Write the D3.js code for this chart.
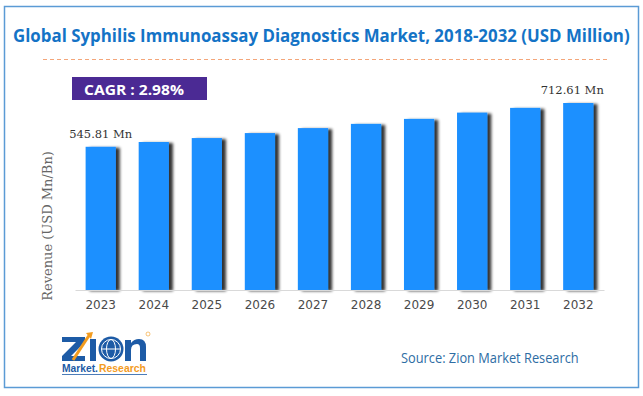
<!DOCTYPE html>
<html>
<head>
<meta charset="utf-8">
<script src="https://cdn.jsdelivr.net/npm/d3@7"></script>
<style>
  html, body { margin: 0; padding: 0; background: #fff; }
  svg { display: block; }
</style>
</head>
<body>
<script>
// chart data
var years = ["2023", "2024", "2025", "2026", "2027", "2028", "2029", "2030", "2031", "2032"];
var revenue = [545.81, 564, 579, 598, 617, 633, 652, 676, 694, 712.61];
var cagr = "2.98%";
var title = "Global Syphilis Immunoassay Diagnostics Market, 2018-2032 (USD Million)";

var W = 643, H = 396;

var svg = d3.select("body").append("svg")
  .attr("width", W)
  .attr("height", H);

var defs = svg.append("defs");
var f = defs.append("filter").attr("id", "shadow")
  .attr("x", "-20%").attr("y", "-5%").attr("width", "150%").attr("height", "110%");
f.append("feGaussianBlur").attr("in", "SourceAlpha").attr("stdDeviation", 1.8).attr("result", "b");
f.append("feOffset").attr("in", "b").attr("dx", 4).attr("dy", 1).attr("result", "o");
f.append("feComponentTransfer").attr("in", "o").attr("result", "s")
  .append("feFuncA").attr("type", "linear").attr("slope", 0.8);
var m = f.append("feMerge");
m.append("feMergeNode").attr("in", "s");
m.append("feMergeNode").attr("in", "SourceGraphic");

// frame
svg.append("rect")
  .attr("x", 4.5).attr("y", 6.5).attr("width", 634).attr("height", 381)
  .attr("fill", "none").attr("stroke", "#5b9bd5").attr("stroke-width", 1.5);

// title, squeezed horizontally to the reference width
var tt = svg.append("text")
  .style("font-family", "'Open Sans', sans-serif")
  .style("font-weight", "bold")
  .style("font-size", "18px")
  .attr("fill", "#1473c6")
  .text(title);
var tw = tt.node().getComputedTextLength();
tt.attr("transform", "translate(13,42) scale(" + (617 / tw) + ",1)");

svg.append("line")
  .attr("x1", 43).attr("x2", 610).attr("y1", 59.5).attr("y2", 59.5)
  .attr("stroke", "#f4a67a").attr("stroke-width", 1.2)
  .attr("stroke-dasharray", "4,3");

// cagr box
svg.append("rect")
  .attr("x", 72).attr("y", 77).attr("width", 135).attr("height", 23)
  .attr("fill", "#4b2a94");
var ct = svg.append("text")
  .style("font-family", "'Open Sans', sans-serif")
  .style("font-weight", "bold")
  .style("font-size", "15px")
  .attr("fill", "#fff")
  .text("CAGR :  " + cagr);
var cw = ct.node().getComputedTextLength();
ct.attr("transform", "translate(84,95) scale(" + (100 / cw) + ",1)");

// scales
var x = d3.scaleBand()
  .domain(years)
  .range([75, 604])
  .paddingInner(0.43)
  .paddingOuter(0.2);

var y = d3.scaleLinear()
  .domain([0, 712.61])
  .range([290, 103]);

var g = svg.append("g");

g.selectAll("rect.bar")
  .data(revenue)
  .join("rect")
  .attr("class", "bar")
  .attr("x", (d, i) => x(years[i]))
  .attr("y", d => y(d))
  .attr("width", x.bandwidth())
  .attr("height", d => y(0) - y(d))
  .attr("fill", "#1e90ff")
  .attr("filter", "url(#shadow)");

// x axis
var xAxis = svg.append("g")
  .attr("transform", "translate(0,290)")
  .call(d3.axisBottom(x).tickSize(0).tickPadding(10));
xAxis.select(".domain").attr("stroke", "#d9d9d9").attr("stroke-width", 1.2);
xAxis.selectAll("text")
  .style("font-family", "'DejaVu Sans', sans-serif")
  .style("font-size", "12px")
  .attr("fill", "#4a4a4a");

// first and last labels
var ends = [0, revenue.length - 1];
g.selectAll("text.lbl")
  .data(ends)
  .join("text")
  .attr("class", "lbl")
  .attr("x", i => x(years[i]) + x.bandwidth() / 2 - (i === 0 ? 0 : 6))
  .attr("y", i => y(revenue[i]) - 9)
  .attr("text-anchor", "middle")
  .style("font-family", "'DejaVu Serif', serif")
  .style("font-size", "11.5px")
  .attr("fill", "#333")
  .text(i => d3.format(".2f")(revenue[i]) + " Mn");

// y label
svg.append("text")
  .attr("transform", "translate(52,226) rotate(-90)")
  .attr("text-anchor", "middle")
  .style("font-family", "'DejaVu Serif', serif")
  .style("font-size", "13px")
  .attr("fill", "#666")
  .text("Revenue (USD Mn/Bn)");

// source
var st = svg.append("text")
  .style("font-family", "'Open Sans', sans-serif")
  .style("font-size", "14px")
  .attr("fill", "#2e6da4")
  .text("Source: Zion Market Research");
var sw = st.node().getComputedTextLength();
st.attr("transform", "translate(401,363) scale(" + (178 / sw) + ",1)");

// logo (glyph shapes for the mark, real text below)
var logo = svg.append("g").attr("transform", "translate(62,332)");
logo.append("path")
  .attr("d", "M0,5 H23 V10 L9,24 H23 V29 H0 V24 L14,10 H0 Z")
  .attr("fill", "#1d5ba6");
logo.append("line")
  .attr("x1", 11).attr("y1", 28).attr("x2", 28).attr("y2", 2)
  .attr("stroke", "#f39c1f").attr("stroke-width", 3);
logo.append("path")
  .attr("d", "M24,1 L31,0 L29,7 Z")
  .attr("fill", "#f39c1f");
logo.append("rect")
  .attr("x", 28).attr("y", 7).attr("width", 6).attr("height", 22)
  .attr("fill", "#1d5ba6");
logo.append("circle")
  .attr("cx", 49).attr("cy", 17).attr("r", 12.5)
  .attr("fill", "#1d5ba6");
logo.append("circle")
  .attr("cx", 49).attr("cy", 17).attr("r", 9.5)
  .attr("fill", "none").attr("stroke", "#fff").attr("stroke-width", 1);
logo.append("ellipse")
  .attr("cx", 49).attr("cy", 17).attr("rx", 4.5).attr("ry", 9.5)
  .attr("fill", "none").attr("stroke", "#fff").attr("stroke-width", 1);
logo.append("line")
  .attr("x1", 39.5).attr("x2", 58.5).attr("y1", 17).attr("y2", 17)
  .attr("stroke", "#fff").attr("stroke-width", 1);
logo.append("path")
  .attr("d", "M63,29 V8 H69 V11 Q72,7 77,7 Q84,7 84,15 V29 H78 V16 Q78,12 75,12 Q69,12 69,18 V29 Z")
  .attr("fill", "#1d5ba6");
logo.append("circle")
  .attr("cx", 86).attr("cy", 2).attr("r", 2)
  .attr("fill", "none").attr("stroke", "#f39c1f").attr("stroke-width", 0.6);
var m1 = logo.append("text")
  .style("font-family", "'Liberation Sans', sans-serif")
  .style("font-weight", "bold")
  .style("font-size", "10.5px")
  .attr("fill", "#1d5ba6")
  .text("Market.");
var m1w = m1.node().getComputedTextLength();
m1.attr("transform", "translate(0,40) scale(" + (36 / m1w) + ",1)");
var m2 = logo.append("text")
  .style("font-family", "'Liberation Sans', sans-serif")
  .style("font-weight", "bold")
  .style("font-size", "10.5px")
  .attr("fill", "#f39c1f")
  .text("Research");
var m2w = m2.node().getComputedTextLength();
m2.attr("transform", "translate(37,40) scale(" + (47 / m2w) + ",1)");
logo.append("line")
  .attr("x1", 0).attr("x2", 85).attr("y1", 42.5).attr("y2", 42.5)
  .attr("stroke", "#1d5ba6").attr("stroke-width", 0.8);
</script>
</body>
</html>
